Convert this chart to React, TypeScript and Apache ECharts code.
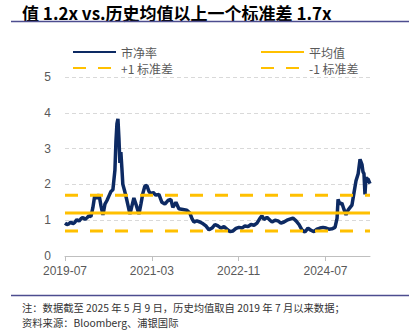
import React, { useEffect, useRef } from "react";
import * as echarts from "echarts";

// Price-to-book readings (date, value)
const dates = [
  "2019-07-01", "2019-07-15", "2019-07-29", "2019-08-12", "2019-08-26", "2019-09-09", "2019-09-23",
  "2019-10-08", "2019-10-22", "2019-11-05", "2019-11-19", "2019-12-03", "2019-12-17", "2019-12-31",
  "2020-01-14", "2020-01-28", "2020-02-11", "2020-02-25", "2020-03-10", "2020-03-24", "2020-04-07",
  "2020-04-21", "2020-05-05", "2020-05-19", "2020-06-02", "2020-06-16", "2020-06-23", "2020-06-30",
  "2020-07-07", "2020-07-14", "2020-07-21", "2020-07-28", "2020-08-04", "2020-08-11", "2020-08-25",
  "2020-09-09", "2020-09-30", "2020-10-14", "2020-10-28", "2020-11-11", "2020-12-02", "2020-12-16",
  "2020-12-30", "2021-01-13", "2021-01-27", "2021-02-11", "2021-02-25", "2021-03-09", "2021-03-30",
  "2021-04-20", "2021-05-11", "2021-06-01", "2021-06-22", "2021-07-13", "2021-07-27", "2021-08-18",
  "2021-09-08", "2021-10-06", "2021-11-03", "2021-11-24", "2021-12-08", "2021-12-22", "2022-01-13",
  "2022-02-03", "2022-02-24", "2022-03-15", "2022-04-06", "2022-04-27", "2022-05-18", "2022-06-08",
  "2022-06-29", "2022-07-20", "2022-08-10", "2022-09-01", "2022-09-22", "2022-10-13", "2022-11-03",
  "2022-11-24", "2022-12-15", "2023-01-06", "2023-01-27", "2023-02-16", "2023-03-08", "2023-03-29",
  "2023-04-12", "2023-04-26", "2023-05-17", "2023-06-08", "2023-06-22", "2023-07-13", "2023-08-03",
  "2023-08-24", "2023-09-14", "2023-10-05", "2023-10-26", "2023-11-16", "2023-12-08", "2023-12-29",
  "2024-01-19", "2024-02-09", "2024-02-29", "2024-03-21", "2024-04-11", "2024-05-02", "2024-05-24",
  "2024-06-14", "2024-07-05", "2024-07-26", "2024-08-16", "2024-09-07", "2024-09-21", "2024-09-28",
  "2024-10-11", "2024-10-25", "2024-11-09", "2024-11-23", "2024-12-07", "2024-12-21", "2025-01-04",
  "2025-01-18", "2025-02-02", "2025-02-16", "2025-02-28", "2025-03-14", "2025-03-21", "2025-03-28",
  "2025-04-04", "2025-04-11", "2025-04-18", "2025-04-25", "2025-05-09",
];
const pbValues = [
  0.92, 0.88, 0.9, 0.95, 0.9, 0.94, 1.02,
  0.97, 1.04, 1.08, 1.02, 1.07, 1.12, 1.1,
  1.35, 1.7, 1.6, 1.72, 1.4, 1.15, 1.45,
  1.55, 1.68, 1.8, 1.85, 2.4, 3.2, 3.7,
  3.83, 3.3, 2.6, 2.9, 2.47, 2.0, 1.8,
  1.55, 1.17, 1.4, 1.62, 1.45, 1.17, 1.45,
  1.75, 1.95, 1.97, 1.8, 1.72, 1.78, 1.7,
  1.72, 1.5, 1.45, 1.55, 1.58, 1.36, 1.5,
  1.32, 1.3, 1.28, 1.2, 1.05, 0.95, 0.98,
  0.95, 0.9, 0.84, 0.73, 0.78, 0.88, 0.84,
  0.78, 0.82, 0.75, 0.68, 0.7, 0.77, 0.8,
  0.78, 0.84, 0.82, 0.88, 0.86, 0.92, 1.05,
  1.12, 1.02, 1.08, 1.0, 0.95, 1.0, 0.98,
  0.92, 0.95, 1.0, 1.03, 1.06, 0.98, 0.88,
  0.73, 0.67, 0.78, 0.72, 0.68, 0.75, 0.78,
  0.8, 0.78, 0.75, 0.76, 0.8, 1.05, 1.58,
  1.45, 1.48, 1.3, 1.15, 1.28, 1.35, 1.42,
  1.75, 2.1, 2.3, 2.7, 2.55, 2.35, 2.3,
  1.72, 2.2, 2.15, 2.15, 2.02,
];
const meanPB = 1.2;
const plusOneSD = 1.7;
const minusOneSD = 0.7;
const xTickLabels = ["2019-07", "2021-03", "2022-11", "2024-07"];
const xTickStep = 20; // months between labelled ticks

const titleText = "值 1.2x vs.历史均值以上一个标准差 1.7x";
const noteText = "注：数据截至 2025 年 5 月 9 日，历史均值取自 2019 年 7 月以来数据；";
const sourceText = "资料来源：Bloomberg、浦银国际";

function monthIndex(d: string): number {
  const [y, m, day] = d.split("-").map(Number);
  const dim = new Date(y, m, 0).getDate();
  return (y - 2019) * 12 + (m - 7) + (day - 1) / dim;
}

const NAVY = "#0d2a63";
const GOLD = "#FFC000";
const CJK = "'Noto Sans CJK SC', 'Liberation Sans', sans-serif";

export default function App() {
  const ref = useRef<HTMLDivElement>(null);
  useEffect(() => {
    document.body.style.margin = "0";
    const chart = echarts.init(ref.current!, null, { renderer: "svg" });
    const xs = dates.map(monthIndex);
    const xMax = xs[xs.length - 1];
    const pbData = xs.map((x, i) => [x, pbValues[i]]);
    const flat = (v: number) => [[0, v], [xMax, v]];
    const tickValues = xTickLabels.map((_, i) => i * xTickStep);
    const legendText = { color: "#595959", fontSize: 12, fontFamily: CJK };
    const mkLegend = (name: string, left: number, top: number) => ({
      data: [name], left, top, itemWidth: 43, itemHeight: 14, itemGap: 5,
      textStyle: legendText, itemStyle: { opacity: 0 },
    });
    chart.setOption({
      animation: false,
      grid: { left: 65, right: 39, top: 77, bottom: 76 },
      legend: [
        mkLegend("市净率", 67, 41),
        mkLegend("平均值", 255, 41),
        mkLegend("+1 标准差", 67, 57),
        mkLegend("-1 标准差", 255, 57),
      ],
      xAxis: {
        type: "value", min: 0, max: xMax, interval: xTickStep,
        axisLine: { show: true, lineStyle: { color: "#bfbfbf", width: 1 } },
        axisTick: { show: true, length: 5, lineStyle: { color: "#bfbfbf" }, customValues: tickValues },
        axisLabel: {
          color: "#595959", fontSize: 12, fontFamily: "'Liberation Sans', sans-serif", margin: 9,
          customValues: tickValues,
          formatter: (v: number) => xTickLabels[Math.round(v / xTickStep)] ?? "",
        },
        splitLine: { show: false },
      },
      yAxis: {
        type: "value", min: 0, max: 5, interval: 1,
        axisLine: { show: false }, axisTick: { show: false },
        axisLabel: { color: "#595959", fontSize: 12, fontFamily: "'Liberation Sans', sans-serif", margin: 14 },
        splitLine: { lineStyle: { color: "#d9d9d9", type: [4, 3], width: 1 } },
      },
      series: [
        { name: "市净率", type: "line", data: pbData, showSymbol: false, symbol: "none",
          lineStyle: { color: NAVY, width: 3.5 }, itemStyle: { color: NAVY }, z: 2 },
        { name: "平均值", type: "line", data: flat(meanPB), showSymbol: false, symbol: "none",
          lineStyle: { color: GOLD, width: 3 }, itemStyle: { color: GOLD }, z: 3 },
        { name: "+1 标准差", type: "line", data: flat(plusOneSD), showSymbol: false, symbol: "none",
          lineStyle: { color: GOLD, width: 3, type: [13, 12] }, itemStyle: { color: GOLD }, z: 3 },
        { name: "-1 标准差", type: "line", data: flat(minusOneSD), showSymbol: false, symbol: "none",
          lineStyle: { color: GOLD, width: 3, type: [13, 12] }, itemStyle: { color: GOLD }, z: 3 },
      ],
      graphic: [
        { type: "text", left: 22, top: 4,
          style: { text: titleText, fill: "#000", fontSize: 17, fontWeight: "bold", fontFamily: CJK } },
        { type: "line", shape: { x1: 11, y1: 21.5, x2: 409, y2: 21.5 },
          style: { stroke: "#4d4d8f", lineWidth: 1.5 } },
        { type: "line", shape: { x1: 11, y1: 295.5, x2: 409, y2: 295.5 },
          style: { stroke: "#4d4d8f", lineWidth: 1.5 } },
        { type: "text", left: 22, top: 302,
          style: { text: noteText, fill: "#333", fontSize: 10.3, fontFamily: CJK } },
        { type: "text", left: 22, top: 317,
          style: { text: sourceText, fill: "#333", fontSize: 10.3, fontFamily: CJK } },
      ],
    });
    return () => chart.dispose();
  }, []);
  return <div ref={ref} style={{ width: 409, height: 332 }} />;
}
